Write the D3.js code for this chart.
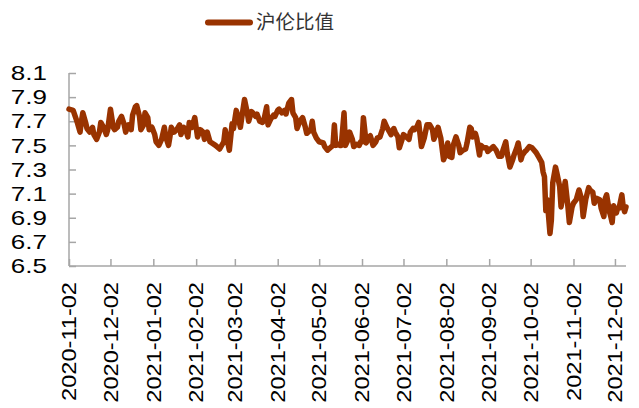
<!DOCTYPE html>
<html>
<head>
<meta charset="utf-8">
<script src="https://cdn.jsdelivr.net/npm/d3@7"></script>
<style>
	body { margin: 0; background: #fff; }
	text { font-family: "Liberation Sans", Arial, sans-serif; }
	.legend-text { font-family: "Noto Sans CJK SC", sans-serif; }
</style>
</head>
<body>
<div id="line-chart"></div>
<script>

var seriesName = "沪伦比值";

var dates = [
	"2020-11-02","2020-11-05","2020-11-08","2020-11-10","2020-11-11","2020-11-12","2020-11-14","2020-11-15",
	"2020-11-17","2020-11-19","2020-11-20","2020-11-22","2020-11-24","2020-11-25","2020-11-27","2020-11-29",
	"2020-11-30","2020-12-02","2020-12-04","2020-12-05","2020-12-07","2020-12-08","2020-12-10","2020-12-12",
	"2020-12-13","2020-12-15","2020-12-17","2020-12-18","2020-12-20","2020-12-21","2020-12-23","2020-12-24",
	"2020-12-26","2020-12-27","2020-12-29","2020-12-30","2021-01-01","2021-01-03","2021-01-04","2021-01-06",
	"2021-01-08","2021-01-10","2021-01-11","2021-01-13","2021-01-14","2021-01-15","2021-01-17","2021-01-19",
	"2021-01-21","2021-01-22","2021-01-24","2021-01-26","2021-01-27","2021-01-28","2021-01-30","2021-02-01",
	"2021-02-02","2021-02-03","2021-02-05","2021-02-07","2021-02-08","2021-02-10","2021-02-12","2021-02-16",
	"2021-02-19","2021-02-22","2021-02-23","2021-02-24","2021-02-26","2021-02-28","2021-03-01","2021-03-03",
	"2021-03-04","2021-03-06","2021-03-07","2021-03-09","2021-03-11","2021-03-12","2021-03-14","2021-03-15",
	"2021-03-17","2021-03-18","2021-03-20","2021-03-22","2021-03-23","2021-03-25","2021-03-26","2021-03-28",
	"2021-03-30","2021-03-31","2021-04-02","2021-04-03","2021-04-05","2021-04-07","2021-04-08","2021-04-10",
	"2021-04-12","2021-04-13","2021-04-15","2021-04-16","2021-04-18","2021-04-20","2021-04-22","2021-04-23",
	"2021-04-26","2021-04-27","2021-04-28","2021-04-30","2021-05-02","2021-05-05","2021-05-06","2021-05-08",
	"2021-05-10","2021-05-12","2021-05-13","2021-05-14","2021-05-16","2021-05-17","2021-05-18","2021-05-20",
	"2021-05-21","2021-05-23","2021-05-24","2021-05-26","2021-05-27","2021-05-29","2021-05-31","2021-06-01",
	"2021-06-02","2021-06-03","2021-06-05","2021-06-07","2021-06-08","2021-06-10","2021-06-12","2021-06-13",
	"2021-06-15","2021-06-17","2021-06-18","2021-06-20","2021-06-22","2021-06-23","2021-06-25","2021-06-26",
	"2021-06-28","2021-06-29","2021-07-01","2021-07-02","2021-07-04","2021-07-06","2021-07-07","2021-07-09",
	"2021-07-10","2021-07-12","2021-07-13","2021-07-15","2021-07-17","2021-07-19","2021-07-21","2021-07-23",
	"2021-07-24","2021-07-26","2021-07-27","2021-07-29","2021-07-31","2021-08-01","2021-08-03","2021-08-04",
	"2021-08-06","2021-08-07","2021-08-09","2021-08-11","2021-08-12","2021-08-14","2021-08-16","2021-08-17",
	"2021-08-19","2021-08-20","2021-08-21","2021-08-23","2021-08-24","2021-08-26","2021-08-27","2021-08-29",
	"2021-08-31","2021-09-01","2021-09-03","2021-09-05","2021-09-07","2021-09-09","2021-09-11","2021-09-12",
	"2021-09-14","2021-09-15","2021-09-17","2021-09-19","2021-09-20","2021-09-22","2021-09-23","2021-09-25",
	"2021-09-26","2021-09-28","2021-09-29","2021-10-01","2021-10-03","2021-10-06","2021-10-08","2021-10-10",
	"2021-10-11","2021-10-12","2021-10-13","2021-10-14","2021-10-16","2021-10-17","2021-10-18","2021-10-20",
	"2021-10-21","2021-10-23","2021-10-24","2021-10-26","2021-10-27","2021-10-29","2021-10-30","2021-11-01",
	"2021-11-02","2021-11-04","2021-11-05","2021-11-06","2021-11-08","2021-11-09","2021-11-11","2021-11-13",
	"2021-11-14","2021-11-16","2021-11-17","2021-11-19","2021-11-21","2021-11-22","2021-11-24","2021-11-25",
	"2021-11-26","2021-11-28","2021-11-29","2021-11-30","2021-12-01","2021-12-03","2021-12-04","2021-12-05",
	"2021-12-07","2021-12-08","2021-12-09","2021-12-10"
];

var ratios = [
	7.80,7.79,7.69,7.61,7.70,7.77,7.69,7.64,
	7.61,7.65,7.59,7.55,7.61,7.69,7.65,7.59,
	7.63,7.80,7.65,7.63,7.65,7.70,7.74,7.67,
	7.61,7.67,7.63,7.75,7.82,7.83,7.74,7.63,
	7.67,7.77,7.73,7.63,7.65,7.59,7.53,7.50,
	7.55,7.65,7.57,7.50,7.57,7.65,7.61,7.63,
	7.67,7.59,7.65,7.61,7.57,7.69,7.65,7.73,
	7.65,7.57,7.63,7.61,7.55,7.61,7.53,7.50,
	7.47,7.53,7.63,7.57,7.46,7.68,7.64,7.79,
	7.75,7.65,7.73,7.88,7.77,7.70,7.78,7.77,
	7.74,7.76,7.70,7.69,7.71,7.82,7.67,7.72,
	7.75,7.74,7.79,7.80,7.77,7.79,7.76,7.85,
	7.88,7.77,7.73,7.64,7.70,7.73,7.65,7.60,
	7.63,7.70,7.61,7.56,7.53,7.52,7.49,7.46,
	7.48,7.50,7.67,7.50,7.51,7.50,7.50,7.77,
	7.50,7.55,7.61,7.55,7.49,7.51,7.50,7.53,
	7.53,7.73,7.52,7.57,7.58,7.50,7.53,7.56,
	7.57,7.64,7.70,7.65,7.61,7.59,7.64,7.61,
	7.57,7.48,7.55,7.59,7.57,7.55,7.61,7.64,
	7.63,7.66,7.69,7.49,7.56,7.67,7.67,7.63,
	7.55,7.61,7.65,7.56,7.38,7.41,7.52,7.41,
	7.40,7.50,7.57,7.50,7.44,7.46,7.47,7.52,
	7.65,7.64,7.57,7.60,7.56,7.42,7.50,7.48,
	7.48,7.45,7.47,7.49,7.46,7.41,7.41,7.46,
	7.53,7.44,7.32,7.38,7.42,7.48,7.52,7.38,
	7.42,7.45,7.46,7.49,7.48,7.44,7.40,7.36,
	7.28,7.24,6.96,7.05,6.77,6.88,7.19,7.32,
	7.27,7.16,6.99,7.12,7.20,6.99,6.86,6.99,
	7.02,7.05,7.09,7.13,7.05,6.91,7.06,7.15,
	7.13,7.11,7.02,7.06,7.05,6.98,6.91,7.06,
	7.09,6.95,6.91,6.86,7.00,6.94,6.98,6.98,
	7.09,6.99,6.95,6.99
];

var xTickLabels = [
	"2020-11-02","2020-12-02","2021-01-02","2021-02-02","2021-03-02","2021-04-02","2021-05-02",
	"2021-06-02","2021-07-02","2021-08-02","2021-09-02","2021-10-02","2021-11-02","2021-12-02"
];
var yTicks = [6.5, 6.7, 6.9, 7.1, 7.3, 7.5, 7.7, 7.9, 8.1];

var parseDate = d3.timeParse("%Y-%m-%d");
var lineColor = "#993300";
var axisColor = "#a6a6a6";

var data = dates.map(function(d, i) {
	return { date: parseDate(d), value: ratios[i] };
});

var svg = d3.select("#line-chart").append("svg")
	.attr("width", 639)
	.attr("height", 408);

// scales
var x = d3.scaleTime()
	.domain([parseDate("2020-11-02"), parseDate("2021-12-10")])
	.range([69, 626]);

var y = d3.scaleLinear()
	.domain([6.5, 8.1])
	.range([266, 73]);

// y axis, ticks pointing inward
var yAxis = svg.append("g")
	.attr("transform", "translate(69,0)")
	.call(d3.axisRight(y).tickValues(yTicks).tickSize(7).tickFormat(""));
yAxis.select(".domain").attr("d", "M0," + y(8.1) + "V" + y(6.5));

svg.selectAll("g.y-label")
	.data(yTicks)
	.enter()
	.append("g")
	.attr("class", "y-label")
	.attr("transform", function(d) {
		return "translate(47," + y(d) + ") scale(1.3,1)";
	})
	.append("text")
	.attr("text-anchor", "end")
	.attr("dy", "0.36em")
	.attr("font-size", 20)
	.attr("fill", "#000")
	.text(function(d) { return d3.format(".1f")(d); });

// x axis
var xAxis = svg.append("g")
	.attr("transform", "translate(0,266)")
	.call(d3.axisTop(x).tickValues(xTickLabels.map(parseDate)).tickSize(7).tickFormat(""));
xAxis.select(".domain").attr("d", "M69,0H626");

svg.selectAll("g.x-label")
	.data(xTickLabels)
	.enter()
	.append("g")
	.attr("class", "x-label")
	.attr("transform", function(d) {
		return "translate(" + x(parseDate(d)) + ",282) rotate(-90) scale(1.18,1)";
	})
	.append("text")
	.attr("text-anchor", "end")
	.attr("dy", "0.36em")
	.attr("font-size", 20)
	.attr("fill", "#000")
	.text(function(d) { return d; });

svg.selectAll(".domain, .tick line")
	.attr("stroke", axisColor)
	.attr("stroke-width", 1.5);

// the ratio line
var line = d3.line()
	.x(function(d) { return x(d.date); })
	.y(function(d) { return y(d.value); });

svg.append("path")
	.datum(data)
	.attr("d", line)
	.attr("fill", "none")
	.attr("stroke", lineColor)
	.attr("stroke-width", 5.5)
	.attr("stroke-linejoin", "round")
	.attr("stroke-linecap", "round");

// legend
svg.append("line")
	.attr("x1", 208)
	.attr("x2", 250)
	.attr("y1", 22.5)
	.attr("y2", 22.5)
	.attr("stroke", lineColor)
	.attr("stroke-width", 6)
	.attr("stroke-linecap", "round");

svg.append("text")
	.attr("class", "legend-text")
	.attr("x", 256)
	.attr("y", 22.5)
	.attr("dy", "0.35em")
	.attr("font-size", 19.5)
	.attr("fill", "#333")
	.text(seriesName);

</script>
</body>
</html>
